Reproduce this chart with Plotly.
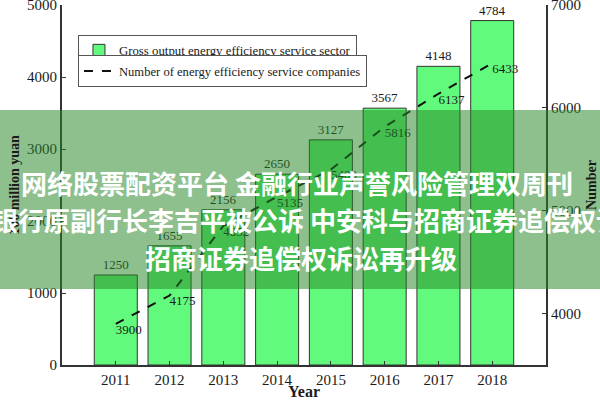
import plotly.graph_objects as go

years = [2011, 2012, 2013, 2014, 2015, 2016, 2017, 2018]
gross_output = [1250, 1655, 2156, 2650, 3127, 3567, 4148, 4784]
companies = [3900, 4175, 4852, 5135, 5400, 5816, 6137, 6433]
left_ticks = [0, 1000, 2000, 3000, 4000, 5000]
right_ticks = [4000, 5000, 6000, 7000]
banner_lines = [
    "网络股票配资平台 金融行业声誉风险管理双周刊",
    "银行原副行长李吉平被公诉 中安科与招商证券追偿权诉讼再升级",
    "招商证券追偿权诉讼再升级",
]

SERIF = "Liberation Serif, Times New Roman, serif"
INK = "#1a1a1a"

fig = go.Figure()
fig.add_trace(go.Bar(
    x=years, y=gross_output, width=0.8,
    name="Gross output energy efficiency service sector",
    marker=dict(color="#62FA7C", line=dict(color="#333333", width=1)),
    text=[str(v) for v in gross_output], textposition="outside",
    textfont=dict(family=SERIF, size=13, color=INK),
    cliponaxis=False, legend="legend",
))
fig.add_trace(go.Scatter(
    x=years, y=companies, yaxis="y2", mode="lines+text",
    name="Number of energy efficiency service companies",
    line=dict(color="#111111", width=2, dash="dash"),
    text=[str(v) for v in companies], textposition="bottom right",
    textfont=dict(family=SERIF, size=13, color=INK),
    cliponaxis=False, legend="legend2",
))

axis_common = dict(showline=True, linecolor="#333333", linewidth=2,
                   ticks="inside", ticklen=4, tickcolor="#333333",
                   showgrid=False, zeroline=False, automargin=False,
                   ticklabeloverflow="allow",
                   tickfont=dict(family=SERIF, size=15, color=INK))

fig.update_layout(
    width=600, height=400,
    margin=dict(l=62, r=54, t=5, b=35, autoexpand=False),
    paper_bgcolor="white", plot_bgcolor="white",
    showlegend=True,
    xaxis=dict(range=[2010, 2019], tickvals=years, **axis_common,
               title=dict(text="<b>Year</b>", font=dict(family=SERIF, size=16, color=INK), standoff=0)),
    yaxis=dict(range=[0, 5000], tickvals=left_ticks, **axis_common,
               title=dict(text="<b>100 million yuan</b>", font=dict(family=SERIF, size=14, color=INK), standoff=4)),
    yaxis2=dict(range=[3500, 7000], tickvals=right_ticks, overlaying="y", side="right", **axis_common,
                title=dict(text="<b>Number</b>", font=dict(family=SERIF, size=14, color=INK), standoff=6)),
    legend=dict(x=0.033, y=0.918, xanchor="left", yanchor="top",
                bgcolor="white", bordercolor="#555555", borderwidth=1,
                font=dict(family=SERIF, size=12.8, color=INK), tracegroupgap=0,
                itemwidth=30),
    legend2=dict(x=0.033, y=0.86, xanchor="left", yanchor="top",
                 bgcolor="white", bordercolor="#555555", borderwidth=1,
                 font=dict(family=SERIF, size=12.6, color=INK), tracegroupgap=0,
                 itemwidth=30),
    shapes=[dict(type="rect", xref="paper", yref="paper",
                 x0=-0.3, x1=1.3, y0=0.2111, y1=0.7083,
                 fillcolor="rgba(38,135,38,0.52)", line=dict(width=0), layer="above")],
)

banner_font = dict(family="Noto Sans CJK SC", size=26, color="white")
fig.add_annotation(text="<b>" + banner_lines[0] + "</b>", xref="paper", yref="paper",
                   x=0.486, y=0.5056, xanchor="center", yanchor="middle",
                   showarrow=False, font=banner_font)
fig.add_annotation(text="<b>" + banner_lines[1] + "</b>", xref="paper", yref="paper",
                   x=-0.148, y=0.4028, xanchor="left", yanchor="middle",
                   showarrow=False, font=banner_font)
fig.add_annotation(text="<b>" + banner_lines[2] + "</b>", xref="paper", yref="paper",
                   x=0.4938, y=0.3, xanchor="center", yanchor="middle",
                   showarrow=False, font=banner_font)

fig.write_html("out.html", config={"displayModeBar": False},
               post_script="document.body.style.margin='0';document.body.style.overflow='hidden';")
